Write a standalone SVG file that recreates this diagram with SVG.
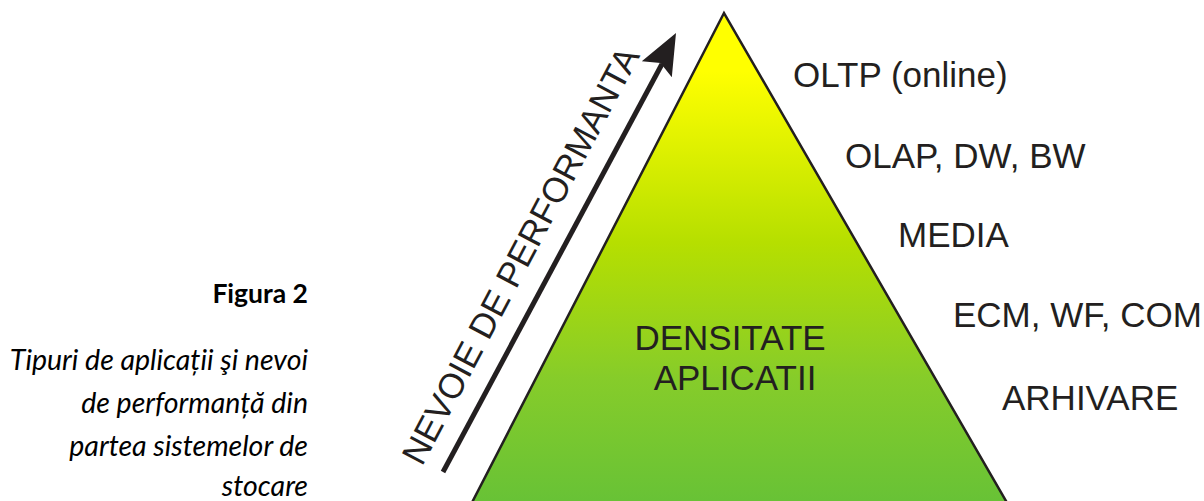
<svg xmlns="http://www.w3.org/2000/svg" width="1204" height="501" viewBox="0 0 1204 501">
<style>
.lbl{font-family:"Liberation Sans",Arial,sans-serif;font-size:35px;fill:#231F20}
.cap{font-family:Lato,"Open Sans",sans-serif;fill:#000;text-anchor:end}
.it{font-size:28.5px;font-style:italic}
</style>
<defs>
<linearGradient id="g" gradientUnits="userSpaceOnUse" x1="0" y1="13" x2="0" y2="501">
<stop offset="0.12" stop-color="#FFFF00"/>
<stop offset="0.47" stop-color="#B6DF00"/>
<stop offset="0.75" stop-color="#86CC2A"/>
<stop offset="1" stop-color="#68C236"/>
</linearGradient>
</defs>
<rect width="1204" height="501" fill="#FFFFFF"/>
<g id="caption">
<text class="cap" x="308" y="303" font-size="26.5" font-weight="bold">Figura 2</text>
<text class="cap it" x="308" y="370">Tipuri de aplicații şi nevoi</text>
<text class="cap it" x="308" y="413">de performanță din</text>
<text class="cap it" x="308" y="456">partea sistemelor de</text>
<text class="cap it" x="308" y="496">stocare</text>
</g>
<g id="pyramid">
<polygon points="724,13 463,520 1017,520" fill="url(#g)" stroke="#231F20" stroke-width="2.5" stroke-linejoin="miter"/>
<text class="lbl" x="730" y="350" text-anchor="middle" font-size="34">DENSITATE</text>
<text class="lbl" x="735" y="390" text-anchor="middle" font-size="34">APLICATII</text>
</g>
<g id="labels">
<text class="lbl" x="793" y="87">OLTP (online)</text>
<text class="lbl" x="845" y="168">OLAP, DW, BW</text>
<text class="lbl" x="898" y="247">MEDIA</text>
<text class="lbl" x="953" y="327">ECM, WF, COM</text>
<text class="lbl" x="1002" y="410">ARHIVARE</text>
</g>
<g id="connectors">
<line x1="443" y1="472" x2="662" y2="64" stroke="#231F20" stroke-width="5"/>
<polygon points="676,33 641.8,61.2 660.5,63 671.8,77.2" fill="#231F20"/>
<text class="lbl" transform="translate(422,467) rotate(-62.05)" font-size="36">NEVOIE DE PERFORMANTA</text>
</g>
</svg>
